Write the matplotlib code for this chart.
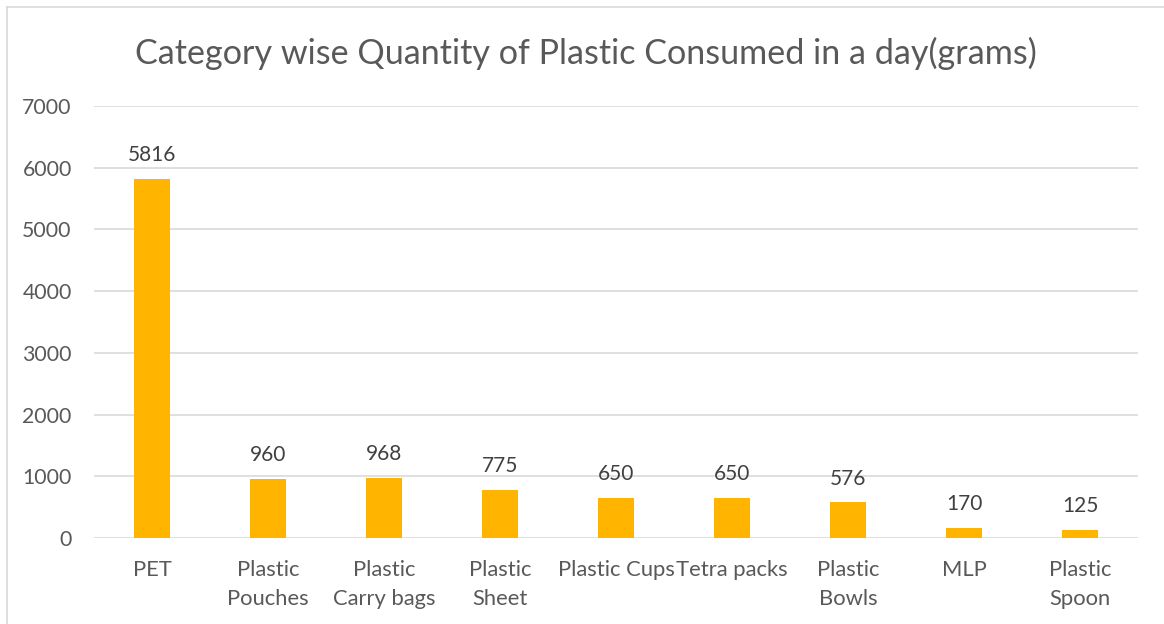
import matplotlib
matplotlib.use("Agg")
import matplotlib.pyplot as plt
from matplotlib.lines import Line2D

categories = ["PET", "Plastic\nPouches", "Plastic\nCarry bags", "Plastic\nSheet",
              "Plastic Cups", "Tetra packs", "Plastic\nBowls", "MLP", "Plastic\nSpoon"]
values = [5816, 960, 968, 775, 650, 650, 576, 170, 125]
yticks = [0, 1000, 2000, 3000, 4000, 5000, 6000, 7000]
title = "Category wise Quantity of Plastic Consumed in a day(grams)"

plt.rcParams['font.family'] = ['Lato', 'DejaVu Sans']
text_color = "#595959"
grid_color = "#D9D9D9"
bar_color = "#FFB500"

fig = plt.figure(figsize=(11.64, 6.24), dpi=100)
ax = fig.add_axes([94/1164, 86/624, (1138-94)/1164, (538-106)/624])

x = list(range(len(categories)))
ax.bar(x, values, width=0.31, color=bar_color, zorder=3)
for xi, v in zip(x, values):
    ax.annotate(str(v), (xi, v), xytext=(0, 10), textcoords="offset points",
                ha="center", va="bottom", fontsize=15, color="#404040")

ax.set_xlim(-0.5, len(categories) - 0.5)
ax.set_ylim(0, 7000)
ax.set_yticks(yticks)
ax.set_yticklabels([str(t) for t in yticks], fontsize=15.3, color=text_color)
ax.set_xticks(x)
ax.set_xticklabels(categories, fontsize=15.8, color=text_color, linespacing=1.55)
ax.tick_params(axis="both", length=0)
ax.tick_params(axis="y", pad=16)
ax.tick_params(axis="x", pad=16)
ax.grid(axis="y", color=grid_color, linewidth=1.2, zorder=0)
for s in ax.spines.values():
    s.set_visible(False)

fig.text(586/1164, 1 - 53/624, title, ha="center", va="center",
         fontsize=24.6, color=text_color)

# chart border (top and left visible)
fig.add_artist(Line2D([7/1164, 1.0], [1 - 7/624, 1 - 7/624], transform=fig.transFigure,
                      color=grid_color, linewidth=1.2))
fig.add_artist(Line2D([7/1164, 7/1164], [0, 1 - 7/624], transform=fig.transFigure,
                      color=grid_color, linewidth=1.2))

fig.savefig("out.png", dpi=100)
